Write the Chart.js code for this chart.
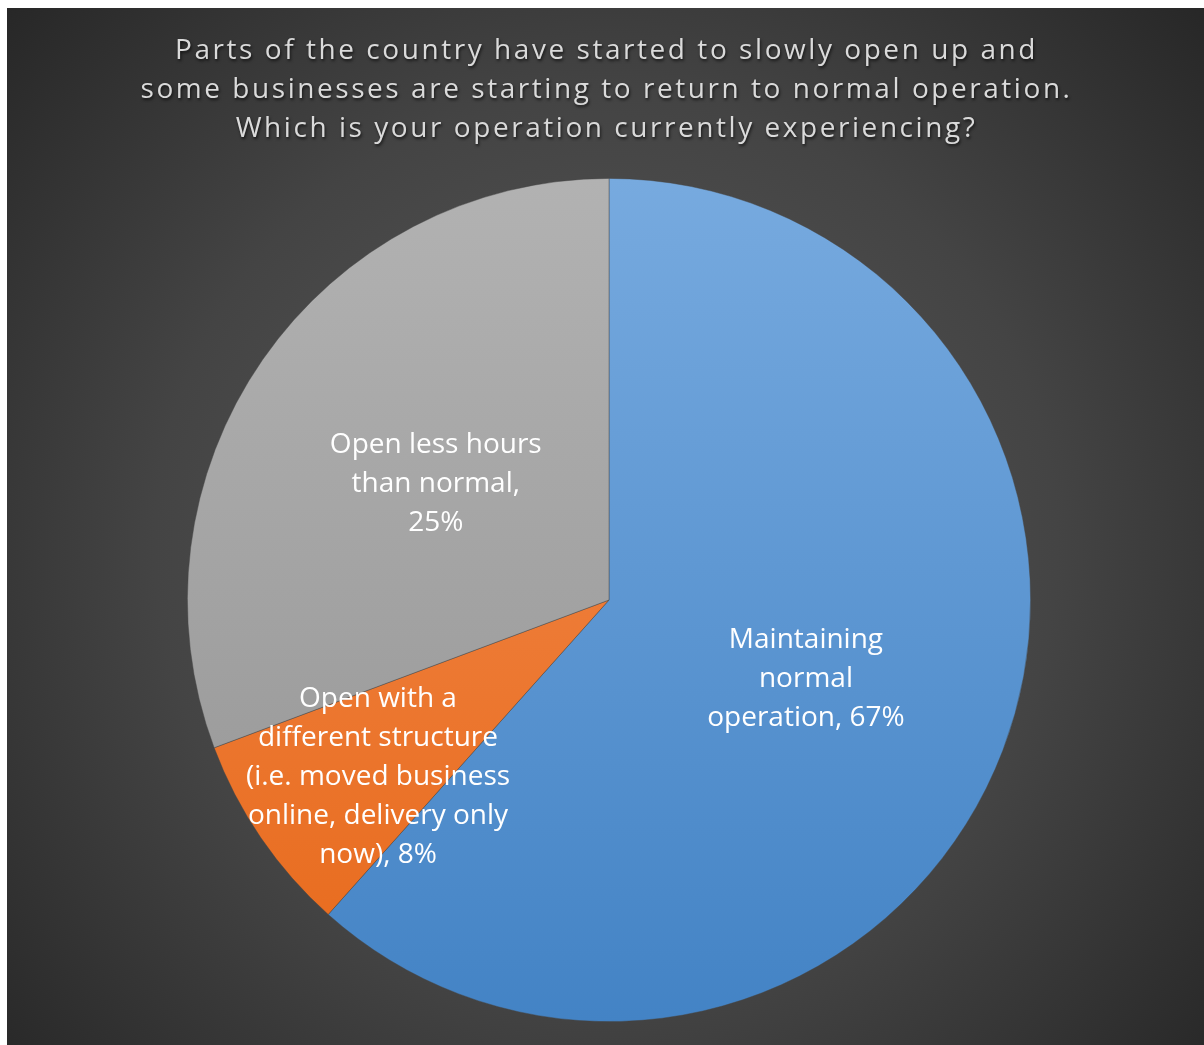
<!DOCTYPE html>
<html>
<head>
<meta charset="utf-8">
<script src="https://cdn.jsdelivr.net/npm/chart.js@4.4.0/dist/chart.umd.min.js"></script>
<style>
  html, body { margin: 0; padding: 0; background: #fff; }
  #wrap { position: absolute; left: 7px; top: 8px; width: 1197px; height: 1037px; }
</style>
</head>
<body>
<div id="wrap"><canvas id="pie"></canvas></div>
<script>
  // ----- data -----
  const titleLines = [
    'Parts of the country have started to slowly open up and',
    'some businesses are starting to return to normal operation.',
    'Which is your operation currently experiencing?'
  ];
  const categories = [
    'Maintaining\nnormal\noperation',
    'Open with a\ndifferent structure\n(i.e. moved business\nonline, delivery only\nnow)',
    'Open less hours\nthan normal,\n'
  ];
  const sliceValues = [61.6, 7.7, 30.7];      // slice sizes
  const shownPercents = ['67%', '8%', '25%']; // text printed on the slices

  // gradient pairs (top -> bottom)
  const sliceColors = [
    ['#77aadf', '#4383c5'],
    ['#f48d52', '#e7691a'],
    ['#b2b2b2', '#939393']
  ];
  // label placement: fraction of radius along the slice middle, and a small angle nudge (deg)
  const labelRadius = [0.5, 0.685, 0.5];
  const labelNudge  = [0, -2.5, 0];

  const FONT = '"Open Sans", "Noto Sans", sans-serif';

  function joinLabel(i) {
    const c = categories[i];
    const sep = c.endsWith('\n') ? '' : ', ';
    return (c + sep + shownPercents[i]).split('\n');
  }

  const bgPlugin = {
    id: 'bg',
    beforeDraw(chart) {
      const { ctx, width, height } = chart;
      const cx = width / 2, cy = height * 0.52;
      const g = ctx.createRadialGradient(cx, cy, 0, cx, cy, 820);
      g.addColorStop(0, '#5a5a5a');
      g.addColorStop(0.55, '#444444');
      g.addColorStop(1, '#262626');
      ctx.save();
      ctx.fillStyle = g;
      ctx.fillRect(0, 0, width, height);
      ctx.restore();
    }
  };

  const titlePlugin = {
    id: 'spacedTitle',
    afterDraw(chart) {
      const ctx = chart.ctx;
      ctx.save();
      ctx.font = '28px ' + FONT;
      ctx.letterSpacing = '2.55px';
      ctx.textAlign = 'center';
      ctx.textBaseline = 'middle';
      ctx.fillStyle = '#dadada';
      ctx.shadowColor = 'rgba(0,0,0,0.65)';
      ctx.shadowBlur = 3;
      ctx.shadowOffsetX = 1;
      ctx.shadowOffsetY = 2;
      titleLines.forEach((t, i) => ctx.fillText(t, chart.width / 2 + 1, 43 + i * 39));
      ctx.restore();
    }
  };

  const labelPlugin = {
    id: 'sliceLabels',
    afterDatasetsDraw(chart) {
      const ctx = chart.ctx;
      const meta = chart.getDatasetMeta(0);
      ctx.save();
      ctx.font = '28px ' + FONT;
      ctx.textAlign = 'center';
      ctx.textBaseline = 'middle';
      ctx.fillStyle = '#ffffff';
      meta.data.forEach((arc, i) => {
        const p = arc.getProps(['x', 'y', 'startAngle', 'endAngle', 'outerRadius'], true);
        const mid = (p.startAngle + p.endAngle) / 2 + labelNudge[i] * Math.PI / 180;
        const r = p.outerRadius * labelRadius[i];
        const lx = p.x + Math.cos(mid) * r;
        const ly = p.y + Math.sin(mid) * r + 4;
        const lines = joinLabel(i);
        const lh = 39;
        const y0 = ly - (lines.length - 1) * lh / 2;
        lines.forEach((ln, k) => ctx.fillText(ln, lx, y0 + k * lh));
      });
      ctx.restore();
    }
  };

  function sliceGradient(ctx, area, pair) {
    if (!area) return pair[0];
    const g = ctx.createLinearGradient(0, area.top, 0, area.bottom);
    g.addColorStop(0, pair[0]);
    g.addColorStop(1, pair[1]);
    return g;
  }

  new Chart(document.getElementById('pie'), {
    type: 'pie',
    data: {
      labels: categories.map((c) => c.replace(/\n/g, ' ').trim()),
      datasets: [{
        data: sliceValues,
        backgroundColor: (c) => sliceGradient(c.chart.ctx, c.chart.chartArea, sliceColors[c.dataIndex]),
        borderColor: 'rgba(70,70,70,0.55)',
        borderWidth: 0.8
      }]
    },
    options: {
      responsive: true,
      maintainAspectRatio: false,
      animation: false,
      layout: { padding: { top: 170, bottom: 23, left: 7, right: 0 } },
      plugins: {
        legend: { display: false },
        tooltip: { enabled: false },
        title: { display: false }
      }
    },
    plugins: [bgPlugin, labelPlugin, titlePlugin]
  });
</script>
</body>
</html>
